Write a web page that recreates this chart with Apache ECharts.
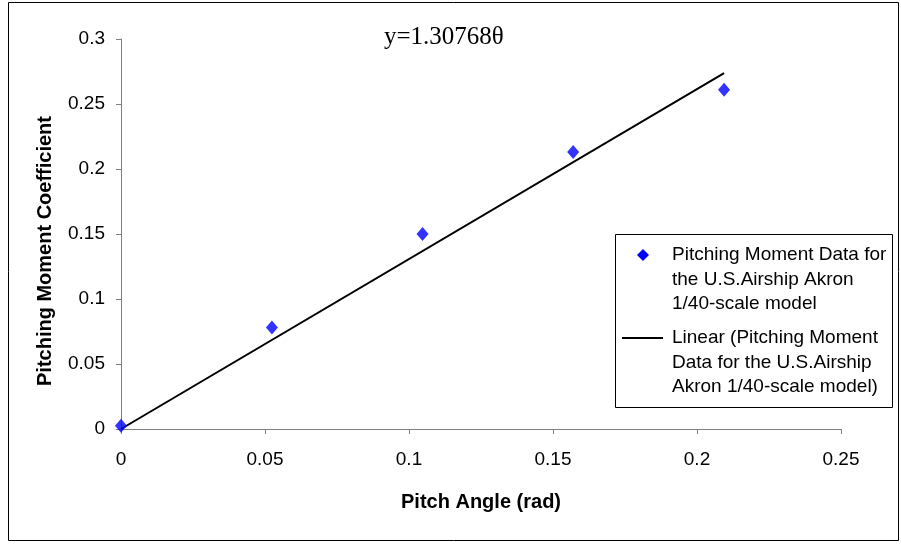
<!DOCTYPE html>
<html><head><meta charset="utf-8">
<script src="https://cdn.jsdelivr.net/npm/echarts@6/dist/echarts.min.js"></script>
<style>html,body{margin:0;padding:0;background:#fff}#c{width:901px;height:544px}</style>
</head><body><div id="c"></div>
<script>
// Data
var pitchAngle = [0, 0.0524, 0.1047, 0.157, 0.2094];
var momentCoef = [0.0025, 0.078, 0.150, 0.213, 0.261];
var trendX = [0, 0.2094];
var trendY = [0, 0.2738];
var xTicks = ['0', '0.05', '0.1', '0.15', '0.2', '0.25'];
var yTicks = ['0', '0.05', '0.1', '0.15', '0.2', '0.25', '0.3'];
var seriesName = 'Pitching Moment Data for\nthe U.S.Airship Akron\n1/40-scale model';
var trendName = 'Linear (Pitching Moment\nData for the U.S.Airship\nAkron 1/40-scale model)';
var equation = 'y=1.30768\u03B8';

var chart = echarts.init(document.getElementById('c'), null, {renderer: 'canvas'});
var font = 'Arial, "Liberation Sans", sans-serif';
chart.setOption({
  animation: false,
  backgroundColor: '#fff',
  grid: {left: 121, top: 39, right: 60, bottom: 115, containLabel: false},
  xAxis: {
    type: 'value', min: 0, max: 0.25, interval: 0.05,
    name: 'Pitch Angle (rad)', nameLocation: 'middle', nameGap: 63,
    nameTextStyle: {fontFamily: font, fontWeight: 'bold', fontSize: 20, color: '#000'},
    axisLine: {show: true, onZero: false, lineStyle: {color: '#808080', width: 1}},
    axisTick: {show: true, length: 5, lineStyle: {color: '#808080'}},
    axisLabel: {margin: 21, fontFamily: font, fontSize: 19, color: '#000',
      formatter: function (v) { return xTicks[Math.round(v / 0.05)]; }},
    splitLine: {show: false}
  },
  yAxis: {
    type: 'value', min: 0, max: 0.3, interval: 0.05,
    name: 'Pitching Moment Coefficient', nameLocation: 'middle', nameGap: 66,
    nameTextStyle: {fontFamily: font, fontWeight: 'bold', fontSize: 20, color: '#000', padding: [0, 34, 0, 0]},
    axisLine: {show: true, onZero: false, lineStyle: {color: '#808080', width: 1}},
    axisTick: {show: true, length: 5, lineStyle: {color: '#808080'}},
    axisLabel: {margin: 16, fontFamily: font, fontSize: 19, color: '#000',
      formatter: function (v) { return yTicks[Math.round(v / 0.05)]; }},
    splitLine: {show: false}
  },
  series: [
    {
      type: 'line', name: trendName, data: trendX.map(function (x, i) { return [x, trendY[i]]; }),
      showSymbol: false, symbol: 'none', lineStyle: {color: '#000', width: 2}, z: 2
    },
    {
      type: 'scatter', name: seriesName, data: pitchAngle.map(function (x, i) { return [x, momentCoef[i]]; }),
      symbol: 'diamond', symbolSize: [12, 14], itemStyle: {color: '#0000FF'}, z: 3
    }
  ],
  graphic: [
    {type: 'rect', shape: {x: 8.5, y: 2.5, width: 890, height: 538}, style: {fill: null, stroke: '#000', lineWidth: 1}, silent: true, z: -1},
    {type: 'text', x: 384, y: 25, style: {text: equation, font: '25px "Liberation Serif", "Times New Roman", serif', fill: '#000'}},
    {type: 'rect', shape: {x: 615.5, y: 234.5, width: 277, height: 173}, style: {fill: '#fff', stroke: '#000', lineWidth: 1}, z: 10},
    {type: 'polygon', shape: {points: [[643, 249], [649, 255], [643, 261], [637, 255]]}, style: {fill: '#0000FF'}, z: 11},
    {type: 'text', x: 672, y: 243, style: {text: seriesName, font: '19px Arial, "Liberation Sans", sans-serif', lineHeight: 24.5, fill: '#000'}, z: 11},
    {type: 'line', shape: {x1: 622, y1: 338, x2: 663, y2: 338}, style: {stroke: '#000', lineWidth: 2}, z: 11},
    {type: 'text', x: 672, y: 326, style: {text: trendName, font: '19px Arial, "Liberation Sans", sans-serif', lineHeight: 24.5, fill: '#000'}, z: 11}
  ]
});
</script></body></html>
